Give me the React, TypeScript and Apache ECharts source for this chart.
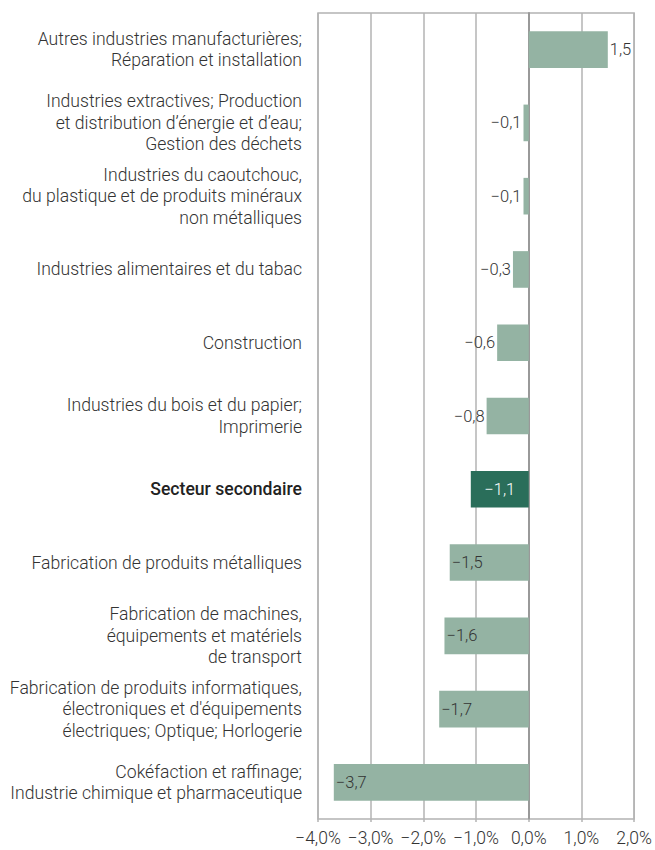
import React, { useEffect, useRef } from "react";
import * as echarts from "echarts";

const categories = [
  "Autres industries manufacturières;\nRéparation et installation",
  "Industries extractives; Production\net distribution d’énergie et d’eau;\nGestion des déchets",
  "Industries du caoutchouc,\ndu plastique et de produits minéraux\nnon métalliques",
  "Industries alimentaires et du tabac",
  "Construction",
  "Industries du bois et du papier;\nImprimerie",
  "Secteur secondaire",
  "Fabrication de produits métalliques",
  "Fabrication de machines,\néquipements et matériels\nde transport",
  "Fabrication de produits informatiques,\nélectroniques et d'équipements\nélectriques; Optique; Horlogerie",
  "Cokéfaction et raffinage;\nIndustrie chimique et pharmaceutique",
];

const values = [1.5, -0.1, -0.1, -0.3, -0.6, -0.8, -1.1, -1.5, -1.6, -1.7, -3.7];

const labelPositions = ["right", "left", "left", "left", "left", "left", "inside", "insideLeft", "insideLeft", "insideLeft", "insideLeft"];

const highlightIndex = 6;

const xTicks = { min: -4, max: 2, interval: 1 };

const fmt = (v: number, digits: number) =>
  (v < 0 ? "\u2212" : "") + Math.abs(v).toFixed(digits).replace(".", ",");

export default function App() {
  const ref = useRef<HTMLDivElement>(null);
  useEffect(() => {
    const chart = echarts.init(ref.current!, undefined, { renderer: "svg" });
    const font = "Roboto";
    chart.setOption({
      animation: false,
      grid: {
        left: 318,
        right: 19,
        top: 13,
        bottom: 31,
        show: true,
        borderColor: "#b3b3b3",
        borderWidth: 1.5,
      },
      xAxis: {
        type: "value",
        min: xTicks.min,
        max: xTicks.max,
        interval: xTicks.interval,
        axisLine: { show: false },
        axisTick: { show: true, length: 3, lineStyle: { color: "#b3b3b3", width: 1.5 } },
        splitLine: { show: true, lineStyle: { color: "#b3b3b3", width: 1.5 } },
        axisLabel: {
          formatter: (v: number) => fmt(v, 1) + "%",
          fontFamily: font,
          fontSize: 17.5,
          fontWeight: 300,
          color: "#333",
          margin: 10,
        },
      },
      yAxis: {
        type: "category",
        inverse: true,
        data: categories,
        axisLine: { show: true, lineStyle: { color: "#999", width: 2 } },
        axisTick: { show: false },
        axisLabel: {
          fontFamily: font,
          fontSize: 17.6,
          fontWeight: 300,
          color: "#333",
          lineHeight: 21.5,
          margin: 16,
          align: "right",
          formatter: (v: string) =>
            v === categories[highlightIndex] ? "{b|" + v + "}" : v,
          rich: {
            b: { fontFamily: font, fontSize: 17.6, fontWeight: 500, color: "#222" },
          },
        },
      },
      series: [
        {
          type: "bar",
          barWidth: "50%",
          data: values.map((v, i) => ({
            value: v,
            itemStyle: { color: i === highlightIndex ? "#2a6e5a" : "#94b3a3" },
            label: {
              show: true,
              position: labelPositions[i],
              distance: 2,
              formatter: () => fmt(v, 1),
              fontFamily: font,
              fontSize: 16.5,
              fontWeight: 300,
              color: i === highlightIndex ? "#ffffff" : "#333",
            },
          })),
        },
      ],
    });
    return () => chart.dispose();
  }, []);
  return (
    <div
      ref={ref}
      style={{ position: "fixed", left: 0, top: 0, width: 655, height: 850, background: "#fff" }}
    />
  );
}
